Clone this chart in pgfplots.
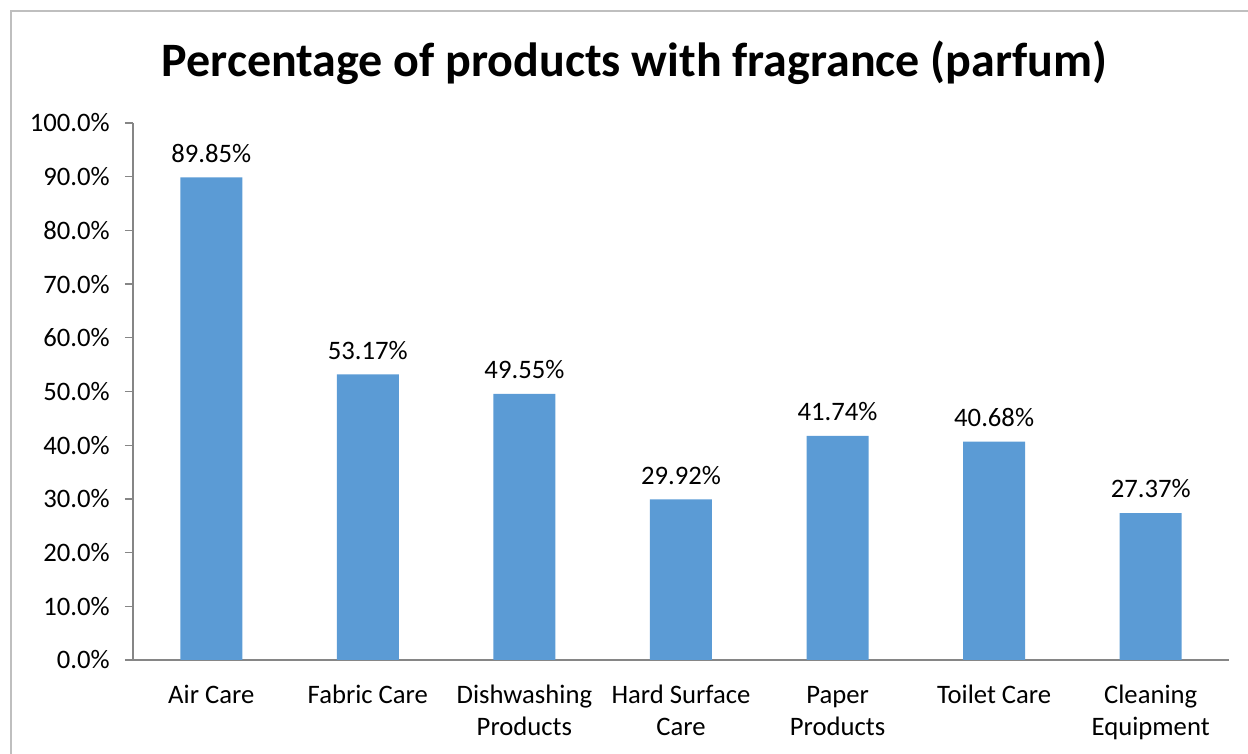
\documentclass[border=0pt]{standalone}
\usepackage{fontspec}
\setmainfont{Carlito}
\usepackage{pgfplots}
\pgfplotsset{compat=1.18}
\definecolor{barblue}{HTML}{5B9BD5}
\definecolor{axisgray}{HTML}{868686}
\definecolor{framegray}{HTML}{BFBFBF}
\begin{document}
\begin{tikzpicture}[x=0.6pt,y=0.6pt]
\useasboundingbox (0,0) rectangle (1248,754);
\draw[framegray, line width=1.0pt] (11,0) -- (11,743) -- (1248,743);
\node[anchor=base, font=\bfseries\fontsize{28.8}{34}\selectfont] at (634.5,677) {Percentage of products with fragrance (parfum)};
\begin{axis}[
  at={(79.8pt,56.4pt)}, anchor=south west,
  scale only axis, width=657.6pt, height=322.2pt,
  xmin=-0.5, xmax=6.5, ymin=0, ymax=100,
  /pgf/number format/assume math mode=true,
  axis x line*=bottom, axis y line*=left,
  axis line style={axisgray, line width=0.8pt},
  tick align=outside,
  major tick length=4.8pt, minor tick length=4.8pt,
  tick style={axisgray, line width=0.8pt},
  ytick={0,10,...,100},
  yticklabel={\pgfmathprintnumber[fixed,fixed zerofill,precision=1]{\tick}\%},
  yticklabel style={font=\fontsize{16}{19}\selectfont, xshift=-5.6pt},
  xtick={0,...,6},
  xticklabels={{\strut Air Care}, {\strut Fabric Care}, {\strut Dishwashing\\Products}, {\strut Hard Surface\\Care}, {\strut Paper\\Products}, {\strut Toilet Care}, {\strut Cleaning\\Equipment}},
  xticklabel style={font=\fontsize{16}{19.2}\selectfont, align=center, yshift=-4.5pt},
  x tick style={draw=none},
  minor xtick={-0.5,0.5,...,6.5},
  minor x tick style={axisgray, line width=0.8pt},
  ybar, bar width=37.2pt,
  nodes near coords={\pgfmathprintnumber[fixed,fixed zerofill,precision=2]{\pgfplotspointmeta}\%},
  nodes near coords style={font=\fontsize{16}{19}\selectfont, yshift=5.5pt},
]
\addplot[fill=barblue, draw=none] coordinates {(0,89.85) (1,53.17) (2,49.55) (3,29.92) (4,41.74) (5,40.68) (6,27.37)};
\end{axis}
\end{tikzpicture}
\end{document}
